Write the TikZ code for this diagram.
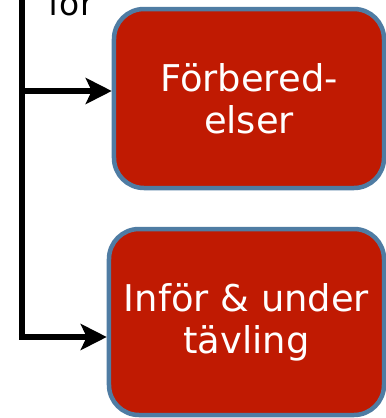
\documentclass[tikz,border=0pt]{standalone}
\usepackage{fontspec}
\setmainfont{DejaVu Sans}
\usetikzlibrary{arrows.meta}
\definecolor{boxred}{RGB}{192,26,2}
\definecolor{boxrim}{RGB}{79,124,163}
\begin{document}
\begin{tikzpicture}[x=1bp,y=-1bp,
	>={Stealth[length=26bp,width=26bp,inset=6bp]},
	box/.style={draw=boxrim,line width=4.5bp,fill=boxred,rounded corners=30bp,
		text=white,align=center,inner sep=0pt,
		font=\fontsize{37}{42}\selectfont},
	link/.style={line width=6.5bp}]
	\useasboundingbox (0,0) rectangle (386,418);
	\clip (0,0) rectangle (386,418);
	\node[box,minimum width=270bp,minimum height=179bp] (prep) at (249,98.5) {Förbered-\\elser};
	\node[box,minimum width=275bp,minimum height=186bp] (race) at (246.5,322) {Inför \& under\\tävling};
	\node[anchor=base,inner sep=0pt,font=\fontsize{33}{38}\selectfont] (cut) at (71,15) {för};
	\coordinate (top) at (22,-5);
	\coordinate (j1) at (22,91);
	\coordinate (j2) at (22,337);
	\draw[link] (top) -- (j2);
	\draw[link,->] (j1) -- (j1 -| prep.west);
	\draw[link,->] ([xshift=-3bp]j2) -- (j2 -| race.west);
\end{tikzpicture}
\end{document}
